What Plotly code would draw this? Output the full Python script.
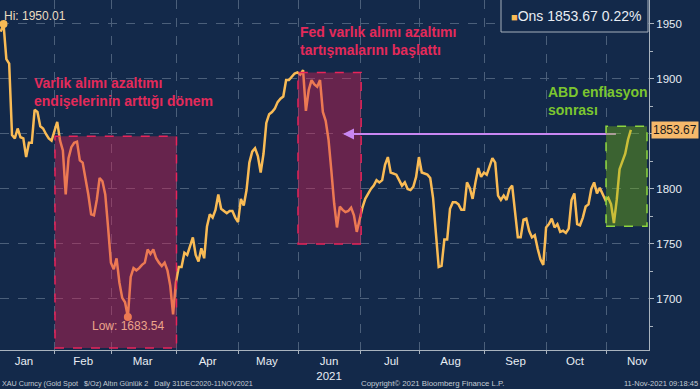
import pandas as pd
import plotly.graph_objects as go

# ---------------- data (XAU spot daily closes) ----------------
jan = [1943, 1950.01, 1918, 1914, 1849, 1846, 1855, 1847, 1846, 1829, 1842, 1842,
       1872, 1870, 1857, 1855, 1850, 1846, 1844, 1852]
feb = [1861, 1844, 1835, 1795, 1828, 1838, 1842, 1843, 1826, 1824, 1810, 1795,
       1777, 1776, 1790, 1810, 1807, 1795, 1765, 1733]
mar = [1727, 1737, 1715, 1701, 1697, 1683.54, 1720, 1728, 1726, 1728, 1731, 1733,
       1745, 1741, 1745, 1737, 1733, 1730, 1733, 1726, 1712, 1686, 1715]
apr = [1729, 1729, 1742, 1740, 1748, 1756, 1740, 1734, 1746, 1737, 1766, 1777,
       1774, 1781, 1795, 1782, 1780, 1778, 1780, 1780, 1774, 1770]
may = [1791, 1785, 1799, 1824, 1834, 1837, 1830, 1815, 1832, 1860, 1868, 1870,
       1873, 1879, 1882, 1884, 1899, 1899, 1902, 1905, 1906]
jun = [1904, 1908, 1871, 1890, 1899, 1895, 1893, 1899, 1870, 1862, 1845, 1817,
       1787, 1765, 1784, 1781, 1779, 1780, 1783, 1776, 1761, 1772]
jul = [1783, 1791, 1796, 1800, 1803, 1808, 1806, 1808, 1822, 1829, 1815, 1814,
       1813, 1808, 1803, 1806, 1800, 1799, 1802, 1811, 1829, 1815]
aug = [1814, 1813, 1810, 1792, 1760, 1729, 1730, 1754, 1754, 1782, 1788, 1788,
       1786, 1781, 1781, 1806, 1801, 1791, 1806, 1819, 1811, 1815]
sep = [1813, 1820, 1828, 1824, 1794, 1790, 1794, 1790, 1800, 1803, 1780, 1756,
       1756, 1772, 1773, 1762, 1756, 1758, 1746, 1736, 1731, 1765]
oct_ = [1768, 1773, 1765, 1768, 1761, 1762, 1760, 1764, 1790, 1796, 1768, 1767,
        1774, 1784, 1786, 1800, 1806, 1796, 1801, 1795, 1790]
nov = [1792, 1786, 1769, 1790, 1818, 1825, 1832, 1845, 1853.67]

prices = jan + feb + mar + apr + may + jun + jul + aug + sep + oct_ + nov
dates = pd.bdate_range("2021-01-04", "2021-11-11")
assert len(dates) == len(prices)

month_labels = ["Jan", "Feb", "Mar", "Apr", "May", "Jun<br>2021", "Jul", "Aug",
                "Sep", "Oct", "Nov"]
month_mid = ["2021-01-15", "2021-02-15", "2021-03-16", "2021-04-16", "2021-05-17",
             "2021-06-16", "2021-07-16", "2021-08-16", "2021-09-16", "2021-10-15",
             "2021-11-16"]

hi_date, hi_value = "2021-01-05", 1950.01
low_date, low_value = "2021-03-08", 1683.54
last_value, last_change = 1853.67, "0.22%"
y_ticks = [1700, 1750, 1800, 1850, 1900, 1950]
# the 1850 label sits under the last-price tag
y_ticktext = ["1700", "1750", "1800", "", "1900", "1950"]

# ---------------- styling ----------------
BG = "#13294a"
GRID = "#4b5f7a"
AXIS = "#a9b3be"
TXT = "#e8edf3"
LINE = "#f9bb55"
RED = "#e42a5a"
GREEN = "#7cc62f"
PURPLE = "#c987f2"
FOOT = "#c3cbd4"
FONT = "Liberation Sans, Arial, sans-serif"

# Bloomberg draws each close at the end of its session slot
offset = pd.Timedelta(hours=19)
xs = dates + offset

fig = go.Figure()
fig.add_trace(go.Scatter(x=xs, y=prices, mode="lines",
                         line=dict(color=LINE, width=2.5), hoverinfo="skip"))
fig.add_trace(go.Scatter(x=[pd.Timestamp(hi_date) + offset, pd.Timestamp(low_date) + offset],
                         y=[hi_value, low_value], mode="markers",
                         marker=dict(color=LINE, size=8), hoverinfo="skip"))

shapes = [
    dict(type="rect", xref="x", yref="y", x0="2021-02-01", x1="2021-04-01",
         y0=1655.5, y1=1848, fillcolor="rgba(220,30,80,0.42)",
         line=dict(color="#e8245a", width=1.5, dash="dash"), layer="above"),
    dict(type="rect", xref="x", yref="y", x0="2021-06-01", x1="2021-07-01 08:00",
         y0=1750, y1=1906, fillcolor="rgba(220,30,80,0.42)",
         line=dict(color="#e8245a", width=1.5, dash="dash"), layer="above"),
    # purple pointer line (runs under the green box)
    dict(type="line", xref="x", yref="y", x0="2021-06-23 12:00", x1="2021-11-04 12:00",
         y0=1850, y1=1850, line=dict(color=PURPLE, width=2), layer="above"),
    dict(type="rect", xref="x", yref="y", x0="2021-11-01", x1="2021-11-19 12:00",
         y0=1766, y1=1857, fillcolor="rgba(125,195,10,0.38)",
         line=dict(color="#8ed63f", width=1.5, dash="dash"), layer="above"),
    dict(type="rect", xref="paper", yref="paper", x0=501 / 649, x1=648 / 649,
         y0=1 - 32 / 350, y1=1.005, fillcolor=BG,
         line=dict(color="#a6b0bb", width=1), layer="above"),
]

annotations = [
    # purple arrow head
    dict(x="2021-06-22 22:00", y=1850, ax="2021-07-12", ay=1850,
         xref="x", yref="y", axref="x", ayref="y", text="", showarrow=True,
         arrowhead=2, arrowsize=1.1, arrowwidth=2, arrowcolor=PURPLE, standoff=0),
    # event texts
    dict(x=32 / 649, y=1 - 92.5 / 350, xref="paper", yref="paper", xanchor="left",
         yanchor="middle", align="left", showarrow=False,
         text="<b>Varlık alımı azaltımı<br>endişelerinin arttığı dönem</b>",
         font=dict(family=FONT, size=14, color=RED)),
    dict(x=298 / 649, y=1 - 41 / 350, xref="paper", yref="paper", xanchor="left",
         yanchor="middle", align="left", showarrow=False,
         text="<b>Fed varlık alımı azaltımı<br>tartışmalarını başlattı</b>",
         font=dict(family=FONT, size=14, color=RED)),
    dict(x=546 / 649, y=1 - 101 / 350, xref="paper", yref="paper", xanchor="left",
         yanchor="middle", align="left", showarrow=False,
         text="<b>ABD enflasyon<br>sonrası</b>",
         font=dict(family=FONT, size=14, color=GREEN)),
    # hi / low labels
    dict(x=pd.Timestamp(hi_date) + offset, y=hi_value, xref="x", yref="y",
         xanchor="left", yanchor="middle", yshift=8, xshift=-2, showarrow=False,
         text=f"Hi: {hi_value:.2f}", font=dict(family=FONT, size=12, color="#eadcc0")),
    dict(x=pd.Timestamp(low_date) + offset, y=low_value, xref="x", yref="y",
         xanchor="center", yanchor="middle", yshift=-9, showarrow=False,
         text=f"Low: {low_value:.2f}", font=dict(family=FONT, size=12, color="#eca48a")),
    # legend text
    dict(x=576 / 649, y=1 - 16 / 350, xref="paper", yref="paper", xanchor="center",
         yanchor="middle", showarrow=False,
         text=f'<span style="color:{LINE};font-size:11px">■</span>Ons {last_value:.2f} {last_change}',
         font=dict(family=FONT, size=14, color=TXT)),
    # last price tag
    dict(x=1, y=last_value, xref="paper", yref="y", xanchor="left", yanchor="middle",
         xshift=2, showarrow=False, text=f"{last_value:.2f}", bgcolor="#f6b96b",
         borderpad=1, font=dict(family=FONT, size=12, color="#1b1b1b")),
    # footer
    dict(x=0, y=-33 / 350, xref="paper", yref="paper", xanchor="left", yanchor="middle",
         showarrow=False,
         text="XAU Curncy (Gold Spot   $/Oz) Altın Günlük 2   Daily 31DEC2020-11NOV2021",
         font=dict(family=FONT, size=7.2, color=FOOT)),
    dict(x=432 / 649, y=-33 / 350, xref="paper", yref="paper", xanchor="center",
         yanchor="middle", showarrow=False, text="Copyright© 2021 Bloomberg Finance L.P.",
         font=dict(family=FONT, size=7.8, color=FOOT)),
    dict(x=700 / 649, y=-33 / 350, xref="paper", yref="paper", xanchor="right",
         yanchor="middle", showarrow=False, text="11-Nov-2021 09:18:45",
         font=dict(family=FONT, size=7.5, color=FOOT)),
]

fig.update_layout(
    width=700, height=389,
    margin=dict(l=0, r=51, t=0, b=39),
    paper_bgcolor=BG, plot_bgcolor=BG,
    showlegend=False,
    font=dict(family=FONT, color=TXT),
    shapes=shapes, annotations=annotations,
    xaxis=dict(
        type="date", range=["2021-01-04 13:00", "2021-11-22 05:00"],
        rangebreaks=[dict(bounds=["sat", "mon"])],
        tickmode="array", tickvals=month_mid, ticktext=month_labels,
        ticks="", showgrid=False,
        minor=dict(tick0="2021-01-01", dtick="M1", showgrid=True, gridcolor=GRID,
                   griddash="dash", gridwidth=1, ticks="outside", ticklen=3,
                   tickcolor=AXIS),
        showline=True, linecolor=AXIS, linewidth=1, zeroline=False,
        tickfont=dict(family=FONT, size=11.5, color=TXT),
    ),
    yaxis=dict(
        side="right", range=[1653.6, 1971.8],
        tickmode="array", tickvals=y_ticks, ticktext=y_ticktext,
        showgrid=True, gridcolor=GRID, griddash="dash", gridwidth=1,
        ticks="outside", ticklen=4, tickcolor=AXIS,
        showline=True, linecolor=AXIS, linewidth=1, zeroline=False,
        minor=dict(tick0=1650, dtick=25, ticks="outside", ticklen=3,
                   tickcolor=AXIS, showgrid=False),
        tickfont=dict(family=FONT, size=11.5, color=TXT),
    ),
)

fig.write_html("out.html", config={"displayModeBar": False},
               post_script="document.body.style.margin='0';document.body.style.overflow='hidden';")
